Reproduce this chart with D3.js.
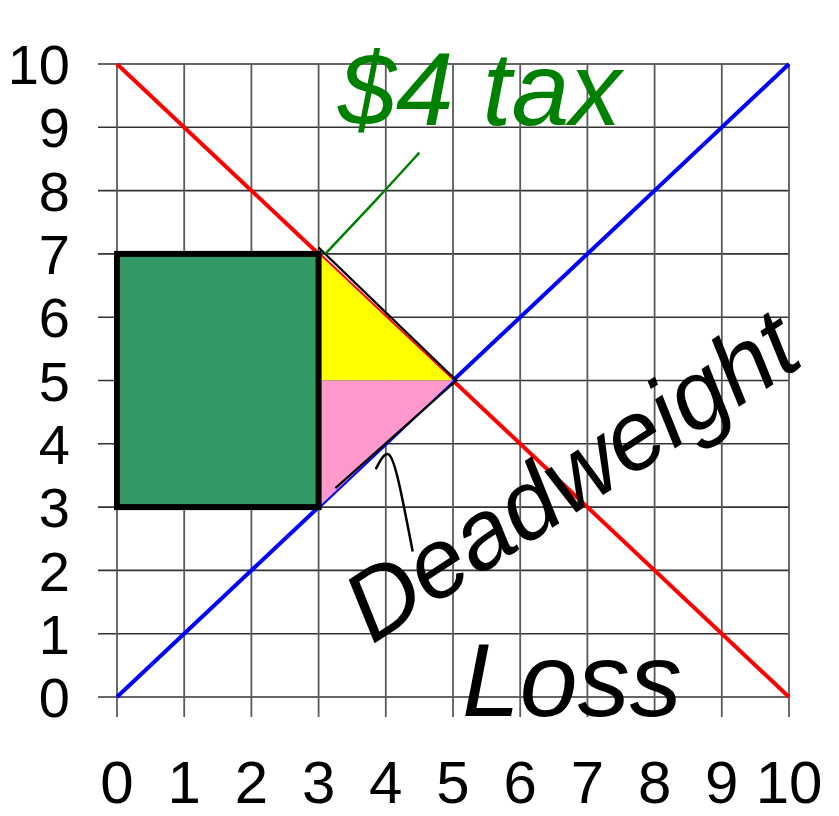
<!DOCTYPE html>
<html>
<head>
<meta charset="utf-8">
<script src="https://cdn.jsdelivr.net/npm/d3@7"></script>
<style>
  body { margin: 0; background: #fff; }
  svg { display: block; font-family: "Liberation Sans", Arial, sans-serif; }
</style>
</head>
<body>
<div id="chart"></div>
<script>
// valores do gráfico
const tickValues = [0, 1, 2, 3, 4, 5, 6, 7, 8, 9, 10];
const tickLabels = ["0", "1", "2", "3", "4", "5", "6", "7", "8", "9", "10"];

// procura (vermelho) e oferta (azul)
const demand = [{ q: 0, p: 10 }, { q: 10, p: 0 }];
const supply = [{ q: 0, p: 0 }, { q: 10, p: 10 }];

// receita do imposto (retângulo verde)
const taxQ = [0, 3];
const taxP = [3, 7];

// perda de peso morto (triângulos)
const consumerLoss = [[3, 7], [3, 5], [5, 5]];
const producerLoss = [[3, 5], [3, 3], [5, 5]];

// anotações escritas à mão
const taxNote = "$4 tax";
const dwlNote1 = "Deadweight";
const dwlNote2 = "Loss";

const width = 839, height = 816;

const svg = d3.select("#chart").append("svg")
  .attr("width", width)
  .attr("height", height);

const x = d3.scaleLinear().domain([0, 10]).range([117, 789]);
const y = d3.scaleLinear().domain([0, 10]).range([697, 64]);

//---------------- grelha ----------------
const grid = svg.append("g");
grid.selectAll("line.h").data(tickValues).enter().append("line")
  .attr("class", "h")
  .attr("x1", x(0) - 19).attr("x2", x(10))
  .attr("y1", d => y(d)).attr("y2", d => y(d))
  .attr("stroke", "#333").attr("stroke-width", 1.6);
grid.selectAll("line.v").data(tickValues).enter().append("line")
  .attr("class", "v")
  .attr("y1", y(10)).attr("y2", y(0) + 20)
  .attr("x1", d => x(d)).attr("x2", d => x(d))
  .attr("stroke", "#5a5a5a").attr("stroke-width", 1.8);

//---------------- etiquetas ----------------
svg.append("g").selectAll("text").data(tickValues).enter().append("text")
  .text((d, i) => tickLabels[i])
  .attr("x", 70)
  .attr("y", d => y(d))
  .attr("dy", "0.36em")
  .attr("text-anchor", "end")
  .attr("font-size", 56)
  .attr("fill", "#000");

svg.append("g").selectAll("text").data(tickValues).enter().append("text")
  .text((d, i) => tickLabels[i])
  .attr("x", d => x(d))
  .attr("y", 803)
  .attr("text-anchor", "middle")
  .attr("font-size", 60)
  .attr("fill", "#000");

//---------------- linhas ----------------
const line = d3.line().x(d => x(d.q)).y(d => y(d.p));
svg.append("path").datum(demand).attr("d", line)
  .attr("fill", "none").attr("stroke", "#ff0000").attr("stroke-width", 4);
svg.append("path").datum(supply).attr("d", line)
  .attr("fill", "none").attr("stroke", "#0000ff").attr("stroke-width", 4);

//---------------- áreas ----------------
const poly = d3.line().x(d => x(d[0])).y(d => y(d[1]));
svg.append("path").datum(consumerLoss).attr("d", d => poly(d) + "Z")
  .attr("fill", "#ffff00");
svg.append("path").datum(producerLoss).attr("d", d => poly(d) + "Z")
  .attr("fill", "#ff99cc");
svg.append("path").datum([[3, 7.1], [5.05, 5], [3.25, 3.3]]).attr("d", poly)
  .attr("fill", "none").attr("stroke", "#000").attr("stroke-width", 2.2);

svg.append("rect")
  .attr("x", x(taxQ[0])).attr("y", y(taxP[1]))
  .attr("width", x(taxQ[1]) - x(taxQ[0]))
  .attr("height", y(taxP[0]) - y(taxP[1]))
  .attr("fill", "#339966")
  .attr("stroke", "#000")
  .attr("stroke-width", 6);

//---------------- anotações ----------------
svg.append("text").text(taxNote)
  .attr("x", 338).attr("y", 125)
  .attr("font-size", 104)
  .attr("font-style", "italic")
  .attr("fill", "#008000");
svg.append("path")
  .datum([[4.5, 8.6], [3.9, 7.9], [3.1, 7.0]])
  .attr("d", d3.line().x(d => x(d[0])).y(d => y(d[1])).curve(d3.curveBasis))
  .attr("fill", "none").attr("stroke", "#008000").attr("stroke-width", 2.5);

svg.append("text").text(dwlNote1)
  .attr("transform", "translate(372,645) rotate(-33)")
  .attr("font-size", 98)
  .attr("font-style", "italic")
  .attr("fill", "#000");
svg.append("text").text(dwlNote2)
  .attr("x", 462).attr("y", 716)
  .attr("font-size", 104)
  .attr("font-style", "italic")
  .attr("fill", "#000");
svg.append("path")
  .datum([[4.4, 2.3], [4.2, 3.4], [4.05, 4.0], [3.85, 3.6]])
  .attr("d", d3.line().x(d => x(d[0])).y(d => y(d[1])).curve(d3.curveBasis))
  .attr("fill", "none").attr("stroke", "#000").attr("stroke-width", 2.5);
</script>
</body>
</html>
